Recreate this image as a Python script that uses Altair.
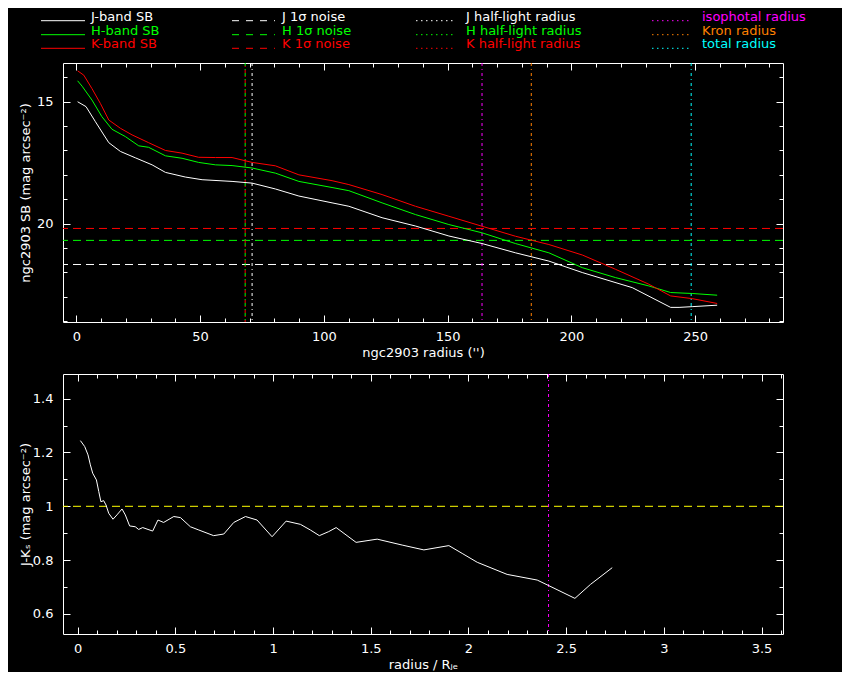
import altair as alt
import pandas as pd

FONT = "DejaVu Sans"

# ---------------- data ----------------
j_radius = [0.5, 3.9, 7.7, 13.1, 17.8, 23.8, 30.6, 36.0, 44.0, 50.8, 62.9, 71.0, 80.4, 89.9,
            103.3, 110.1, 123.5, 137.0, 150.5, 163.9, 177.4, 190.9, 204.4, 224.6, 240.1,
            243.5, 248.8, 258.9]
j_sb = [15.0, 15.2, 15.82, 16.68, 17.04, 17.3, 17.59, 17.9, 18.09, 18.2, 18.27, 18.34, 18.58,
        18.87, 19.15, 19.29, 19.76, 20.1, 20.51, 20.82, 21.2, 21.54, 22.01, 22.63, 23.44,
        23.44, 23.41, 23.35]

h_radius = [0.5, 2.3, 6.3, 10.3, 14.4, 19.8, 25.2, 29.2, 36.0, 42.7, 49.4, 56.2, 62.9, 71.0,
            80.4, 89.9, 103.3, 110.1, 123.5, 137.0, 150.5, 163.9, 177.4, 190.9, 204.4, 217.9,
            231.3, 240.1, 248.8, 258.9]
h_sb = [14.14, 14.36, 14.93, 15.61, 16.13, 16.43, 16.81, 16.87, 17.22, 17.32, 17.49, 17.59,
        17.62, 17.72, 17.93, 18.27, 18.52, 18.65, 19.15, 19.63, 20.04, 20.38, 20.82, 21.2,
        21.81, 22.22, 22.56, 22.83, 22.87, 22.94]

k_radius = [0.5, 3.0, 6.3, 9.7, 13.1, 17.8, 22.5, 29.2, 36.0, 42.7, 49.4, 56.2, 62.9, 71.0,
            80.4, 89.9, 103.3, 110.1, 123.5, 137.0, 150.5, 163.9, 177.4, 190.9, 204.4, 217.9,
            231.3, 240.1, 248.8, 258.9]
k_sb = [13.73, 13.91, 14.46, 15.07, 15.75, 16.09, 16.36, 16.68, 17.0, 17.11, 17.28, 17.29,
        17.29, 17.49, 17.63, 18.0, 18.24, 18.4, 18.81, 19.29, 19.7, 20.11, 20.52, 20.86,
        21.29, 21.88, 22.49, 22.97, 23.08, 23.28]

noise_band = ["J", "H", "K"]
noise_level = [21.68, 20.69, 20.2]

halflight_band = ["J", "H", "K"]
halflight_radius = [71.0, 68.2, 68.2]

special_kind = ["isophotal", "Kron", "total"]
special_radius = [163.9, 183.8, 248.4]

jk_x = [0.014, 0.036, 0.053, 0.065, 0.077, 0.096, 0.108, 0.119, 0.133, 0.145, 0.159, 0.181,
        0.201, 0.227, 0.244, 0.266, 0.295, 0.312, 0.333, 0.384, 0.411, 0.440, 0.492, 0.526,
        0.577, 0.620, 0.696, 0.748, 0.799, 0.859, 0.918, 0.995, 1.067, 1.140, 1.191, 1.237,
        1.285, 1.323, 1.425, 1.533, 1.661, 1.772, 1.900, 1.968, 2.045, 2.198, 2.352, 2.412,
        2.545, 2.625, 2.736]
jk_color = [1.244, 1.222, 1.191, 1.154, 1.123, 1.098, 1.055, 1.017, 1.021, 1.005, 0.974, 0.952,
            0.968, 0.990, 0.968, 0.927, 0.924, 0.914, 0.921, 0.908, 0.949, 0.940, 0.962, 0.958,
            0.924, 0.912, 0.891, 0.897, 0.940, 0.962, 0.949, 0.887, 0.945, 0.933, 0.912, 0.891,
            0.906, 0.921, 0.866, 0.878, 0.856, 0.838, 0.854, 0.825, 0.792, 0.747, 0.726, 0.705,
            0.658, 0.710, 0.772]

jk_reference = [1.0]
jk_isophotal = [2.41]

legend_keys = [["J", "H", "K"], ["J", "H", "K"], ["J", "H", "K"], ["isophotal", "Kron", "total"]]
legend_labels = [["J-band SB", "H-band SB", "K-band SB"],
                 ["J 1σ noise", "H 1σ noise", "K 1σ noise"],
                 ["J half-light radius", "H half-light radius", "K half-light radius"],
                 ["isophotal radius", "Kron radius", "total radius"]]
legend_styles = ["solid", "dashed", "dotted", "dotted"]

# ---------------- styling ----------------
KEYS = ["J", "H", "K", "isophotal", "Kron", "total", "ref"]
COLORS = ["#ffffff", "#00ff00", "#ff0000", "#ff00ff", "#ff8000", "#00ffff", "#ffff00"]
cscale = alt.Scale(domain=KEYS, range=COLORS)
DASH = [8, 5]
DOT = [3, 3, 1, 3]

sb_df = pd.concat([
    pd.DataFrame({"r": j_radius, "sb": j_sb, "band": "J"}),
    pd.DataFrame({"r": h_radius, "sb": h_sb, "band": "H"}),
    pd.DataFrame({"r": k_radius, "sb": k_sb, "band": "K"}),
], ignore_index=True)
noise_df = pd.DataFrame({"band": noise_band, "level": noise_level})
hl_df = pd.DataFrame({"band": halflight_band, "r": halflight_radius})
sp_df = pd.DataFrame({"band": special_kind, "r": special_radius})
jk_df = pd.DataFrame({"x": jk_x, "jk": jk_color})
ref_df = pd.DataFrame({"v": jk_reference, "band": ["ref"]})
iso_df = pd.DataFrame({"v": jk_isophotal, "band": ["isophotal"]})

AX = dict(domain=False, grid=False, tickColor="white", tickWidth=1,
          labelColor="white", titleColor="white", labelFont=FONT, titleFont=FONT,
          labelFontSize=13, titleFontSize=13, titleFontWeight="normal",
          labelFlush=False, labelOverlap=False)


def axis(orient, values, major, labels=False, title=None, fmt=None):
    size = 7 if major else 4
    d = dict(AX, orient=orient, values=values, tickSize=size, offset=-size, labels=labels)
    if labels:
        if orient in ("bottom", "top"):
            d.update(labelPadding=8, titlePadding=3)
        else:
            d.update(labelPadding=10, titlePadding=4, minExtent=34, maxExtent=34)
        if fmt:
            d["format"] = fmt
    if title is not None:
        d["title"] = title
    else:
        d["title"] = None
    return alt.Axis(**d)


def panel(df, xf, yf, xs, ys, xmaj, xmin, ymaj, ymin, xtitle, ytitle, fmt, real_layer, extra):
    specs = [
        (axis("bottom", xmaj, True, True, xtitle, fmt), axis("left", ymaj, True, True, ytitle, fmt)),
        (axis("bottom", xmin, False), axis("left", ymin, False)),
        (axis("top", xmaj, True), axis("right", ymaj, True)),
        (axis("top", xmin, False), axis("right", ymin, False)),
    ]
    layers = []
    for ax_x, ax_y in specs:
        layers.append(alt.Chart(df).mark_line(strokeOpacity=0).encode(
            x=alt.X(f"{xf}:Q", scale=xs, axis=ax_x),
            y=alt.Y(f"{yf}:Q", scale=ys, axis=ax_y),
        ))
    return layers + extra + [real_layer]


# ---------------- top panel ----------------
xs_top = alt.Scale(domain=[-5.4, 285.5], nice=False, zero=False)
ys_top = alt.Scale(domain=[13.41, 24.04], nice=False, zero=False, reverse=True)
col = alt.Color("band:N", scale=cscale, legend=None)

noise_layer = alt.Chart(noise_df).mark_rule(strokeDash=DASH, strokeWidth=1).encode(
    y=alt.Y("level:Q", scale=ys_top, axis=None), color=col)
hl_layer = alt.Chart(hl_df).transform_filter("datum.band != 'K'").mark_rule(
    strokeDash=DOT, strokeWidth=1).encode(x=alt.X("r:Q", scale=xs_top, axis=None), color=col)
hlk_layer = alt.Chart(hl_df).transform_filter("datum.band == 'K'").mark_rule(
    strokeDash=DOT, strokeDashOffset=3, strokeWidth=1).encode(
    x=alt.X("r:Q", scale=xs_top, axis=None), color=col)
sp_layer = alt.Chart(sp_df).mark_rule(strokeDash=DOT, strokeWidth=1).encode(
    x=alt.X("r:Q", scale=xs_top, axis=None), color=col)
sb_layer = alt.Chart(sb_df).mark_line(strokeWidth=1).encode(
    x=alt.X("r:Q", scale=xs_top, axis=None),
    y=alt.Y("sb:Q", scale=ys_top, axis=None),
    color=col)

top = alt.layer(*panel(
    sb_df, "r", "sb", xs_top, ys_top,
    list(range(0, 251, 50)), list(range(0, 281, 10)), [15, 20], list(range(14, 25)),
    "ngc2903 radius ('')", "ngc2903 SB (mag arcsec⁻²)", None,
    sb_layer, [noise_layer, hl_layer, hlk_layer, sp_layer],
)).resolve_axis(x="independent", y="independent").properties(
    width=720, height=259, view=alt.ViewBackground(stroke="white", strokeWidth=1))

# ---------------- bottom panel ----------------
xs_bot = alt.Scale(domain=[-0.075, 3.61], nice=False, zero=False)
ys_bot = alt.Scale(domain=[0.5256, 1.4915], nice=False, zero=False)

ref_layer = alt.Chart(ref_df).mark_rule(strokeDash=DASH, strokeWidth=1).encode(
    y=alt.Y("v:Q", scale=ys_bot, axis=None), color=col)
iso_layer = alt.Chart(iso_df).mark_rule(strokeDash=DOT, strokeWidth=1).encode(
    x=alt.X("v:Q", scale=xs_bot, axis=None), color=col)
jk_layer = alt.Chart(jk_df).mark_line(strokeWidth=1, color="white").encode(
    x=alt.X("x:Q", scale=xs_bot, axis=None),
    y=alt.Y("jk:Q", scale=ys_bot, axis=None))

x_major_b = [0, 0.5, 1, 1.5, 2, 2.5, 3, 3.5]
x_minor_b = [round(i * 0.1, 1) for i in range(0, 37)]
y_major_b = [0.6, 0.8, 1.0, 1.2, 1.4]
y_minor_b = [round(0.6 + i * 0.1, 1) for i in range(0, 9)]

bottom = alt.layer(*panel(
    jk_df, "x", "jk", xs_bot, ys_bot,
    x_major_b, x_minor_b, y_major_b, y_minor_b,
    "radius / Rⱼₑ", "J-Kₛ (mag arcsec⁻²)", "~g",
    jk_layer, [ref_layer, iso_layer],
)).resolve_axis(x="independent", y="independent").properties(
    width=720, height=260, view=alt.ViewBackground(stroke="white", strokeWidth=1))

# ---------------- legend panel ----------------
LEG_COL_X = [-22, 169, 353, 589]
LEG_LINE_LEN = [44, 43, 40, 40]
LEG_TEXT_DX = 50
LEG_ROW_Y = [8.7, 22.7, 36.3]
rows = []
for c in range(4):
    for r in range(3):
        rows.append({
            "band": legend_keys[c][r], "label": legend_labels[c][r], "style": legend_styles[c],
            "x0": LEG_COL_X[c], "x1": LEG_COL_X[c] + LEG_LINE_LEN[c],
            "xt": LEG_COL_X[c] + LEG_TEXT_DX, "yt": LEG_ROW_Y[r], "yl": LEG_ROW_Y[r] + 4,
        })
leg_df = pd.DataFrame(rows)

leg_lines = alt.Chart(leg_df).mark_rule(strokeWidth=1).encode(
    x=alt.X("x0:Q", scale=None, axis=None), x2="x1:Q",
    y=alt.Y("yl:Q", scale=None, axis=None),
    color=col,
    strokeDash=alt.StrokeDash("style:N", legend=None, scale=alt.Scale(
        domain=["solid", "dashed", "dotted"], range=[[1, 0], [7, 7], [1.5, 3.5]])),
)
leg_text = alt.Chart(leg_df).mark_text(align="left", baseline="middle", font=FONT, fontSize=13).encode(
    x=alt.X("xt:Q", scale=None, axis=None),
    y=alt.Y("yt:Q", scale=None, axis=None),
    text="label:N", color=col)
legend = alt.layer(leg_lines, leg_text).properties(
    width=720, height=44, view=alt.ViewBackground(strokeOpacity=0))

chart = alt.vconcat(legend, alt.vconcat(top, bottom, spacing=13), spacing=10).properties(
    background="black", padding={"left": 10, "top": 0, "right": 36, "bottom": 0})

chart.save("out.html", embed_options={"renderer": "svg", "actions": False})
